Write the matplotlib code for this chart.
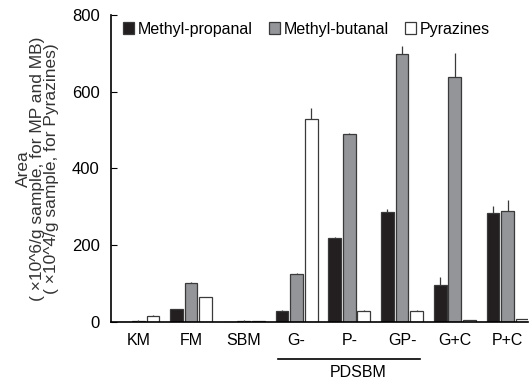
import matplotlib
matplotlib.use("Agg")
import matplotlib.pyplot as plt
import numpy as np
from matplotlib.patches import Patch

categories = ["KM", "FM", "SBM", "G-", "P-", "GP-", "G+C", "P+C"]
methyl_propanal = [0, 33, 0, 30, 219, 286, 97, 283]
methyl_propanal_err = [0, 1, 0, 1, 3, 8, 20, 20]
methyl_butanal = [3, 101, 3, 125, 490, 698, 638, 288]
methyl_butanal_err = [1, 2, 2, 2, 3, 21, 62, 30]
pyrazines = [16, 64, 2, 530, 30, 30, 5, 8]
pyrazines_err = [1, 1, 0, 28, 1, 1, 1, 1]
series_names = ["Methyl-propanal", "Methyl-butanal", "Pyrazines"]
group_label = "PDSBM"
y_label = "Area\n( \u00d710^6/g sample, for MP and MB)\n( \u00d710^4/g sample, for Pyrazines)"

plt.rcParams["font.family"] = ["Liberation Sans", "DejaVu Sans"]

fig = plt.figure(figsize=(5.30, 3.82), dpi=100)
ax = fig.add_axes([0.2094, 0.157, 0.787, 0.804])

x = np.arange(len(categories))
w = 0.243
off = 0.277
edge = "#3a3a3a"
colors = ["#231f20", "#939598", "#ffffff"]
series = [(methyl_propanal, methyl_propanal_err),
          (methyl_butanal, methyl_butanal_err),
          (pyrazines, pyrazines_err)]
for i, ((vals, errs), c) in enumerate(zip(series, colors)):
    pos = x + (i - 1) * off
    ax.bar(pos, vals, width=w, color=c, edgecolor=edge, linewidth=0.9, zorder=2)
    ax.errorbar(pos, vals, yerr=[np.zeros(len(errs)), errs], fmt="none",
                ecolor=edge, elinewidth=0.9, capsize=0, zorder=3)

ax.set_xlim(-0.518, 7.39)
ax.set_ylim(0, 800)
ax.set_yticks([0, 200, 400, 600, 800])
ax.set_xticks(x)
ax.set_xticklabels(categories)
ax.tick_params(axis="x", length=0, pad=8, labelsize=11.5)
ax.tick_params(axis="y", direction="in", length=4, labelsize=12, pad=8)
for s in ("top", "right"):
    ax.spines[s].set_visible(False)
for s in ("left", "bottom"):
    ax.spines[s].set_linewidth(1.2)

ax.set_ylabel(y_label, fontsize=12.5, linespacing=0.92, labelpad=9, color="#333333")

# PDSBM bracket under G-, P-, GP-
ax.plot([2.65, 5.34], [-0.12, -0.12], transform=ax.get_xaxis_transform(),
        color="black", lw=1.2, clip_on=False)
ax.text(4.16, -0.163, group_label, transform=ax.get_xaxis_transform(),
        ha="center", va="center", fontsize=11.5)

handles = [Patch(facecolor=c, edgecolor=edge, linewidth=0.9) for c in colors]
ax.legend(handles, series_names, loc="center left", bbox_to_anchor=(0.028, 0.954),
          ncol=3, frameon=False, fontsize=11.5, handlelength=0.7, handleheight=0.7,
          handletextpad=0.25, columnspacing=1.0, borderaxespad=0, borderpad=0)

fig.savefig("out.png", dpi=100)
